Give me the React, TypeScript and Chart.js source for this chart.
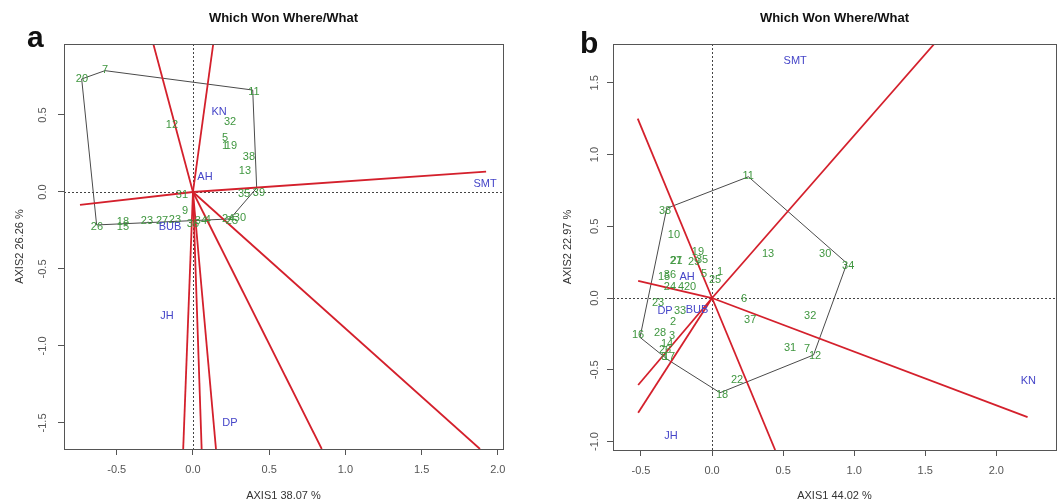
import React, { useEffect, useRef } from 'react';
import { Chart, registerables } from 'chart.js';

Chart.register(...registerables);

const FONT = '"Liberation Sans", Arial, Helvetica, sans-serif';
const GREEN = '#3f963f';
const BLUE = '#4545c8';
const RED = '#d4202c';
const AXIS = '#555555';

// ---------- Panel a ----------
const aGenoLabels = ['20', '7', '11', '32', '12', '5', '1', '19', '38', '13', '31', '35', '39', '9', '26', '18', '15', '2', '3', '27', '23', '36', '34', '4', '24', '25', '30'];
const aGenoX = [-0.728, -0.577, 0.40, 0.243, -0.138, 0.21, 0.21, 0.249, 0.367, 0.341, -0.072, 0.335, 0.433, -0.052, -0.63, -0.459, -0.459, -0.322, -0.282, -0.203, -0.118, 0.0, 0.052, 0.098, 0.23, 0.256, 0.308];
const aGenoY = [0.734, 0.792, 0.649, 0.455, 0.435, 0.351, 0.30, 0.30, 0.227, 0.136, -0.019, -0.013, -0.006, -0.123, -0.227, -0.195, -0.227, -0.188, -0.188, -0.188, -0.182, -0.208, -0.188, -0.182, -0.175, -0.188, -0.169];
const aEnvLabels = ['KN', 'AH', 'SMT', 'BUB', 'JH', 'DP'];
const aEnvX = [0.171, 0.079, 1.916, -0.151, -0.171, 0.243];
const aEnvY = [0.519, 0.097, 0.052, -0.227, -0.805, -1.5];
const aPolyX = [-0.73, -0.577, 0.392, 0.418, 0.243, -0.632];
const aPolyY = [0.734, 0.788, 0.662, 0.026, -0.175, -0.214];
const aRayX = [-0.26, 0.133, 1.923, -0.741, -0.064, 0.057, 0.151, 0.845, 1.883];
const aRayY = [0.961, 0.961, 0.132, -0.084, -1.669, -1.669, -1.669, -1.669, -1.669];
const aXTicks = [-0.5, 0.0, 0.5, 1.0, 1.5, 2.0];
const aYTicks = [-1.5, -1.0, -0.5, 0.0, 0.5];

// ---------- Panel b ----------
const bGenoLabels = ['11', '38', '10', '13', '30', '34', '19', '27', '21', '29', '35', '15', '36', '5', '1', '25', '24', '4', '20', '23', '33', '6', '37', '32', '2', '28', '3', '16', '14', '26', '8', '17', '31', '7', '12', '22', '18'];
const bGenoX = [0.254, -0.331, -0.268, 0.394, 0.796, 0.958, -0.099, -0.254, -0.25, -0.127, -0.07, -0.338, -0.296, -0.056, 0.056, 0.021, -0.296, -0.218, -0.155, -0.38, -0.225, 0.225, 0.268, 0.69, -0.275, -0.366, -0.282, -0.521, -0.317, -0.331, -0.338, -0.303, 0.549, 0.669, 0.725, 0.176, 0.07];
const bGenoY = [0.85, 0.606, 0.439, 0.307, 0.307, 0.223, 0.321, 0.258, 0.258, 0.251, 0.265, 0.146, 0.16, 0.167, 0.181, 0.125, 0.077, 0.077, 0.077, -0.035, -0.091, -0.007, -0.153, -0.125, -0.167, -0.244, -0.265, -0.258, -0.321, -0.362, -0.411, -0.411, -0.348, -0.355, -0.404, -0.571, -0.676];
const bEnvLabels = ['SMT', 'AH', 'DP', 'BUB', 'KN', 'JH'];
const bEnvX = [0.585, -0.176, -0.331, -0.106, 2.225, -0.289];
const bEnvY = [1.652, 0.146, -0.091, -0.084, -0.578, -0.962];
const bPolyX = [-0.319, 0.256, 0.949, 0.714, 0.056, -0.308, -0.507];
const bPolyY = [0.625, 0.845, 0.242, -0.397, -0.66, -0.432, -0.274];
const bRayX = [-0.523, 0.444, 1.563, -0.52, 2.22, -0.52, -0.52];
const bRayY = [1.25, -1.059, 1.77, 0.12, -0.83, -0.606, -0.80];
const bXTicks = [-0.5, 0.0, 0.5, 1.0, 1.5, 2.0];
const bYTicks = [-1.0, -0.5, 0.0, 0.5, 1.0, 1.5];

type Spec = {
  canvasLeft: number; width: number; height: number;
  areaLeft: number; areaRight: number; areaTop: number; areaBottom: number;
  xMin: number; xMax: number; yMin: number; yMax: number;
  xTicks: number[]; yTicks: number[];
  title: string; letter: string; letterX: number; letterY: number;
  xTitle: string; yTitle: string; yTitleX: number; yTickX: number;
  genoLabels: string[]; genoX: number[]; genoY: number[];
  envLabels: string[]; envX: number[]; envY: number[];
  polyX: number[]; polyY: number[]; rayX: number[]; rayY: number[];
};

const specA: Spec = {
  canvasLeft: 0, width: 530, height: 504,
  areaLeft: 64, areaRight: 503, areaTop: 44, areaBottom: 449,
  xMin: -0.846, xMax: 2.034, yMin: -1.669, yMax: 0.961,
  xTicks: aXTicks, yTicks: aYTicks,
  title: 'Which Won Where/What', letter: 'a', letterX: 27, letterY: 47,
  xTitle: 'AXIS1 38.07 %', yTitle: 'AXIS2 26.26 %', yTitleX: 20, yTickX: 43,
  genoLabels: aGenoLabels, genoX: aGenoX, genoY: aGenoY,
  envLabels: aEnvLabels, envX: aEnvX, envY: aEnvY,
  polyX: aPolyX, polyY: aPolyY, rayX: aRayX, rayY: aRayY,
};

const specB: Spec = {
  canvasLeft: 530, width: 529, height: 504,
  areaLeft: 83, areaRight: 526, areaTop: 44, areaBottom: 450,
  xMin: -0.697, xMax: 2.42, yMin: -1.059, yMax: 1.77,
  xTicks: bXTicks, yTicks: bYTicks,
  title: 'Which Won Where/What', letter: 'b', letterX: 50, letterY: 53,
  xTitle: 'AXIS1 44.02 %', yTitle: 'AXIS2 22.97 %', yTitleX: 38, yTickX: 65,
  genoLabels: bGenoLabels, genoX: bGenoX, genoY: bGenoY,
  envLabels: bEnvLabels, envX: bEnvX, envY: bEnvY,
  polyX: bPolyX, polyY: bPolyY, rayX: bRayX, rayY: bRayY,
};

const fmt = (v: number) => (Math.abs(v) < 1e-9 ? '0.0' : v.toFixed(1));

function buildChart(canvas: HTMLCanvasElement, s: Spec) {
  const pts = (xs: number[], ys: number[]) => xs.map((x, i) => ({ x, y: ys[i] }));
  const polyPts = pts(s.polyX, s.polyY);
  polyPts.push({ ...polyPts[0] });

  const datasets: any[] = [
    { label: 'genotypes', data: pts(s.genoX, s.genoY), pointRadius: 0, showLine: false, textLabels: s.genoLabels, textColor: GREEN, order: 1 },
    { label: 'environments', data: pts(s.envX, s.envY), pointRadius: 0, showLine: false, textLabels: s.envLabels, textColor: BLUE, order: 1 },
    { label: 'polygon', data: polyPts, showLine: true, pointRadius: 0, borderColor: '#4a4a4a', borderWidth: 1, fill: false, order: 3 },
  ];
  s.rayX.forEach((x, i) => {
    datasets.push({ label: 'ray' + i, data: [{ x: 0, y: 0 }, { x, y: s.rayY[i] }], showLine: true, pointRadius: 0, borderColor: RED, borderWidth: 1.8, fill: false, order: 2 });
  });

  const deco = {
    id: 'deco',
    beforeDatasetsDraw(chart: any) {
      const { ctx, chartArea: ca, scales } = chart;
      const x0 = Math.round(scales.x.getPixelForValue(0)) + 0.5;
      const y0 = Math.round(scales.y.getPixelForValue(0)) + 0.5;
      ctx.save();
      ctx.strokeStyle = '#444';
      ctx.lineWidth = 1;
      ctx.setLineDash([2, 2]);
      ctx.beginPath();
      ctx.moveTo(ca.left, y0); ctx.lineTo(ca.right, y0);
      ctx.moveTo(x0, ca.top); ctx.lineTo(x0, ca.bottom);
      ctx.stroke();
      ctx.restore();
    },
    afterDatasetsDraw(chart: any) {
      const { ctx } = chart;
      ctx.save();
      ctx.font = `11px ${FONT}`;
      ctx.textAlign = 'center';
      ctx.textBaseline = 'middle';
      chart.data.datasets.forEach((ds: any, di: number) => {
        if (!ds.textLabels) return;
        const meta = chart.getDatasetMeta(di);
        ctx.fillStyle = ds.textColor;
        meta.data.forEach((el: any, j: number) => {
          ctx.fillText(ds.textLabels[j], el.x, el.y);
        });
      });
      ctx.restore();
    },
    afterDraw(chart: any) {
      const { ctx, chartArea: ca, scales } = chart;
      ctx.save();
      // box
      ctx.strokeStyle = AXIS;
      ctx.lineWidth = 1;
      ctx.strokeRect(Math.round(ca.left) + 0.5, Math.round(ca.top) + 0.5, Math.round(ca.right - ca.left), Math.round(ca.bottom - ca.top));
      // y tick labels (rotated, R style)
      ctx.fillStyle = AXIS;
      ctx.font = `11px ${FONT}`;
      ctx.textAlign = 'center';
      ctx.textBaseline = 'middle';
      scales.y.ticks.forEach((t: any) => {
        const py = scales.y.getPixelForValue(t.value);
        ctx.save();
        ctx.translate(s.yTickX, py);
        ctx.rotate(-Math.PI / 2);
        ctx.fillText(fmt(t.value), 0, 0);
        ctx.restore();
      });
      // title
      ctx.fillStyle = '#111';
      ctx.font = `bold 13px ${FONT}`;
      ctx.fillText(s.title, (ca.left + ca.right) / 2, 18);
      // panel letter
      ctx.font = `bold 30px ${FONT}`;
      ctx.textAlign = 'left';
      ctx.textBaseline = 'alphabetic';
      ctx.fillText(s.letter, s.letterX, s.letterY);
      ctx.restore();
    },
  };

  return new Chart(canvas, {
    type: 'scatter',
    data: { datasets },
    options: {
      responsive: false,
      animation: false,
      devicePixelRatio: 1,
      layout: { padding: { top: s.areaTop, left: 0, right: s.width - s.areaRight, bottom: 0 } },
      plugins: { legend: { display: false }, tooltip: { enabled: false }, title: { display: false } },
      scales: {
        x: {
          type: 'linear',
          min: s.xMin,
          max: s.xMax,
          afterFit: (sc: any) => { sc.height = s.height - s.areaBottom; },
          afterBuildTicks: (sc: any) => { sc.ticks = s.xTicks.map((v) => ({ value: v })); },
          ticks: { color: AXIS, font: { family: FONT, size: 11 }, padding: 8, maxRotation: 0, autoSkip: false, callback: (v: any) => fmt(Number(v)) },
          grid: { drawOnChartArea: false, drawTicks: true, tickLength: 6, color: AXIS },
          border: { display: false },
          title: { display: true, text: s.xTitle, color: '#333', font: { family: FONT, size: 11 }, padding: { top: 0, bottom: 1.4 } },
        },
        y: {
          type: 'linear',
          min: s.yMin,
          max: s.yMax,
          afterFit: (sc: any) => { sc.width = s.areaLeft; },
          afterBuildTicks: (sc: any) => { sc.ticks = s.yTicks.map((v) => ({ value: v })); },
          ticks: { display: false },
          grid: { drawOnChartArea: false, drawTicks: true, tickLength: 6, color: AXIS },
          border: { display: false },
          title: { display: true, text: s.yTitle, color: '#333', font: { family: FONT, size: 11 }, padding: { top: s.yTitleX - 6.6, bottom: 0 } },
        },
      },
    } as any,
    plugins: [deco],
  });
}

function Panel({ spec }: { spec: Spec }) {
  const ref = useRef<HTMLCanvasElement | null>(null);
  useEffect(() => {
    if (!ref.current) return;
    const chart = buildChart(ref.current, spec);
    return () => chart.destroy();
  }, [spec]);
  return (
    <canvas
      ref={ref}
      width={spec.width}
      height={spec.height}
      style={{ position: 'absolute', left: spec.canvasLeft, top: 0, width: spec.width, height: spec.height }}
    />
  );
}

export default function App() {
  return (
    <div style={{ position: 'absolute', left: 0, top: 0, width: 1059, height: 504, background: '#fff', overflow: 'hidden' }}>
      <Panel spec={specA} />
      <Panel spec={specB} />
    </div>
  );
}
